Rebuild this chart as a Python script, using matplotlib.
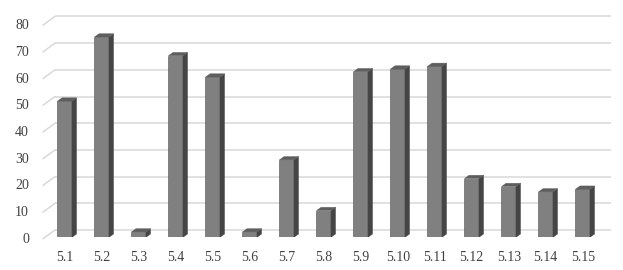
import matplotlib
matplotlib.use("Agg")
import matplotlib.pyplot as plt
from matplotlib.patches import Polygon
from matplotlib.transforms import ScaledTranslation

categories = ["5.1", "5.2", "5.3", "5.4", "5.5", "5.6", "5.7", "5.8",
              "5.9", "5.10", "5.11", "5.12", "5.13", "5.14", "5.15"]
values = [51, 75, 2, 68, 60, 2, 29, 10, 62, 63, 64, 22, 19, 17, 18]
yticks = [0, 10, 20, 30, 40, 50, 60, 70, 80]

W, H, DPI = 623, 270, 100
fig = plt.figure(figsize=(W / DPI, H / DPI), dpi=DPI)
fig.patch.set_facecolor("white")

# axes: left=55px, right=611px, baseline y=237.3px, 2.67 px per unit
px_per_unit = 2.67
base_px = 237.3
ymax = 85
top_px = base_px - ymax * px_per_unit
ax = fig.add_axes([55 / W, (H - base_px) / H, 556 / W, (base_px - top_px) / H])
spacing = 37.0
first_center = 64.7
xl = (55 - first_center) / spacing
xr = (611 - first_center) / spacing
ax.set_xlim(xl, xr)
ax.set_ylim(0, ymax)
ax.axis("off")

def px(dx, dy):
    return ScaledTranslation(dx / DPI, dy / DPI, fig.dpi_scale_trans)

grid_col = "#d9d9d9"
back_tr = ax.transData + px(0, 7.3)
for v in yticks:
    ax.plot([xl, xr], [v, v], color=grid_col, lw=1.1, transform=back_tr,
            clip_on=False, zorder=1, solid_capstyle="butt")
    x0 = xl - 12 / spacing
    ax.annotate("", xy=(xl, v), xycoords=back_tr,
                xytext=(x0, v), textcoords=ax.transData + px(0, -1.5),
                arrowprops=dict(arrowstyle="-", color=grid_col, lw=1.1,
                                shrinkA=0, shrinkB=0), annotation_clip=False)
    ax.text(0, v, str(v), transform=ax.get_yaxis_transform() + px(-26, -2),
            ha="right", va="center", fontsize=10, family="Liberation Serif",
            color="#404040")

bw = 14.5 / spacing
dx = 4.6 / spacing
dy = 3.3 / px_per_unit
front_col = "#808080"
side_col = "#454545"
top_col = "#5e5e5e"
edge = "#505050"
xs = list(range(len(categories)))
ax.bar(xs, values, width=bw, color=front_col, edgecolor=edge, linewidth=0.4, zorder=3)
for x, v in zip(xs, values):
    x0, x1 = x - bw / 2, x + bw / 2
    ax.add_patch(Polygon([(x1, 0), (x1 + dx, dy), (x1 + dx, v + dy), (x1, v)],
                         closed=True, facecolor=side_col, edgecolor=side_col,
                         linewidth=0.3, zorder=3))
    ax.add_patch(Polygon([(x0, v), (x1, v), (x1 + dx, v + dy), (x0 + dx, v + dy)],
                         closed=True, facecolor=top_col, edgecolor=top_col,
                         linewidth=0.3, zorder=3))

for x, c in zip(xs, categories):
    ax.text(x, 0, c, transform=ax.get_xaxis_transform() + px(0, -20.5),
            ha="center", va="center", fontsize=10, family="Liberation Serif",
            color="#404040")

fig.savefig("out.png", dpi=DPI, facecolor="white")
